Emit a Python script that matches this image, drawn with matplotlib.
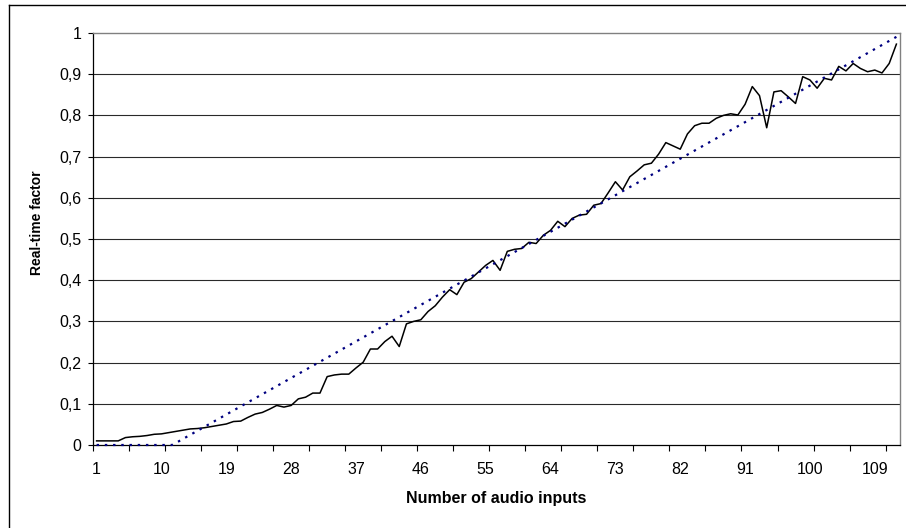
import numpy as np
import matplotlib
matplotlib.use('Agg')
import matplotlib.pyplot as plt
from matplotlib.lines import Line2D

# number of audio inputs (categories 1..112)
inputs = list(range(1, 113))

# measured real-time factor per number of inputs
rt_factor = [
    0.010, 0.010, 0.010, 0.010, 0.018, 0.020, 0.021, 0.023, 0.026, 0.027,
    0.030, 0.033, 0.036, 0.039, 0.040, 0.042, 0.045, 0.048, 0.051, 0.057,
    0.058, 0.067, 0.075, 0.079, 0.087, 0.096, 0.092, 0.096, 0.112, 0.116,
    0.126, 0.126, 0.166, 0.170, 0.172, 0.172, 0.187, 0.201, 0.233, 0.233,
    0.251, 0.264, 0.239, 0.294, 0.300, 0.304, 0.324, 0.338, 0.359, 0.377,
    0.365, 0.395, 0.404, 0.420, 0.436, 0.448, 0.424, 0.470, 0.475, 0.477,
    0.492, 0.489, 0.509, 0.521, 0.543, 0.530, 0.550, 0.558, 0.560, 0.582,
    0.586, 0.612, 0.639, 0.619, 0.651, 0.665, 0.680, 0.684, 0.706, 0.734,
    0.726, 0.718, 0.755, 0.775, 0.781, 0.781, 0.793, 0.800, 0.804, 0.801,
    0.827, 0.870, 0.848, 0.770, 0.857, 0.860, 0.845, 0.829, 0.894, 0.886,
    0.866, 0.890, 0.886, 0.919, 0.908, 0.926, 0.914, 0.906, 0.910, 0.903,
    0.926, 0.973,
]

x_labels = [1, 10, 19, 28, 37, 46, 55, 64, 73, 82, 91, 100, 109]
y_ticks = [0, 0.1, 0.2, 0.3, 0.4, 0.5, 0.6, 0.7, 0.8, 0.9, 1]
y_tick_labels = ['0', '0,1', '0,2', '0,3', '0,4', '0,5', '0,6', '0,7', '0,8', '0,9', '1']


def main():
    plt.rcParams['font.family'] = ['Liberation Sans', 'DejaVu Sans']
    W, H = 906, 528
    fig = plt.figure(figsize=(W / 100, H / 100), dpi=100)

    # plot area in pixels: left 93, right 900, top 33, bottom 445
    ax = fig.add_axes([93 / W, (H - 445) / H, (900 - 93) / W, (445 - 33) / H])

    x = np.array(inputs)
    y = np.array(rt_factor)

    # gridlines
    for v in y_ticks[1:-1]:
        ax.axhline(v, color='#2a2a2a', lw=0.8, zorder=1)

    ax.plot(x, y, color='black', lw=1.1, zorder=3)

    # linear trend line, clipped to the axis minimum like Excel does
    coef = np.polyfit(x, y, 1)
    xs = np.linspace(x[0], x[-1], 600)
    ax.plot(xs, np.clip(np.polyval(coef, xs), 0, None), color='#000080',
            lw=1.6, linestyle=(0, (1.1, 2.6)), zorder=4, clip_on=False)

    ax.set_xlim(0.5, len(inputs) + 0.5)
    ax.set_ylim(0, 1)

    # tick marks every 5 categories, labels every 9
    ax.set_xticks(np.arange(0.5, len(inputs), 5))
    ax.set_xticklabels([])
    ax.set_xticks(x_labels, minor=True)
    ax.set_xticklabels([str(v) for v in x_labels], minor=True)
    ax.tick_params(axis='x', which='major', direction='out', length=4.5, width=0.8, color='black')
    ax.tick_params(axis='x', which='minor', length=0, pad=12, labelsize=11.5)

    ax.set_yticks(y_ticks)
    ax.set_yticklabels(y_tick_labels)
    ax.tick_params(axis='y', direction='out', length=3.5, width=0.8, color='black',
                   pad=5, labelsize=11.5)

    for side in ['top', 'right']:
        ax.spines[side].set_color('#808080')
        ax.spines[side].set_linewidth(1.0)
    for side in ['left', 'bottom']:
        ax.spines[side].set_color('black')
        ax.spines[side].set_linewidth(0.9)

    fig.text(37 / W, 1 - 223 / H, 'Real-time factor', rotation=90, ha='center', va='center',
             fontsize=10, fontweight='bold')
    fig.text((93 + 900) / 2 / W, 1 - 499 / H, 'Number of audio inputs', ha='center', va='center',
             fontsize=11.5, fontweight='bold')

    # outer chart frame (only left and top edges are inside the picture)
    fig.add_artist(Line2D([8.5 / W, 8.5 / W], [0, 1 - 4.5 / H], color='black', lw=1.0))
    fig.add_artist(Line2D([8.5 / W, 1], [1 - 4.5 / H, 1 - 4.5 / H], color='black', lw=1.0))

    fig.savefig('out.png', dpi=100)


if __name__ == "__main__":
    main()
